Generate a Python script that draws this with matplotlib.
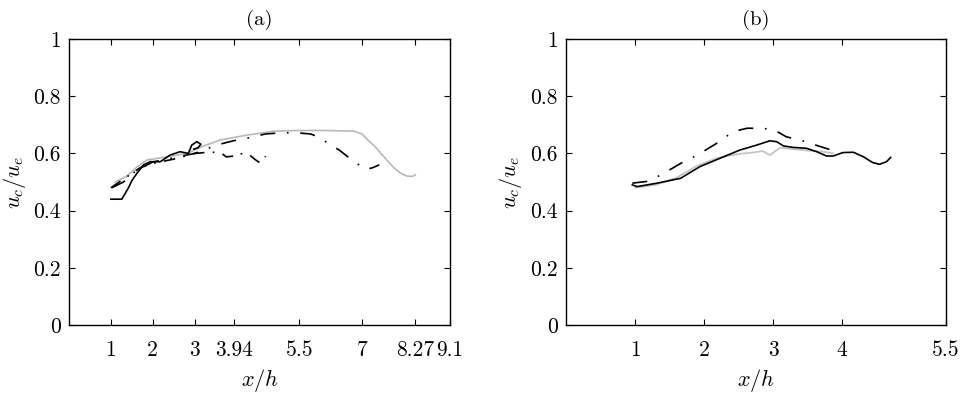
import matplotlib
matplotlib.use('Agg')
import matplotlib.pyplot as plt

plt.rcParams['font.family'] = 'cmr10'
plt.rcParams['mathtext.fontset'] = 'cm'
plt.rcParams['axes.formatter.use_mathtext'] = True

# ---- panel (a) data ----
a_gray_x = [1.1, 1.38, 1.6, 1.86, 2.2, 2.5, 2.82, 3.2, 3.61, 4.25, 4.9, 5.5, 6.2, 6.8,
            7.0, 7.13, 7.3, 7.45, 7.6, 7.77, 7.95, 8.09, 8.2, 8.27]
a_gray_y = [0.50, 0.52, 0.55, 0.577, 0.585, 0.592, 0.60, 0.625, 0.647, 0.664, 0.678, 0.68, 0.68, 0.678,
            0.668, 0.647, 0.625, 0.60, 0.575, 0.548, 0.528, 0.52, 0.52, 0.525]

a_black_x = [1.0, 1.26, 1.42, 1.5, 1.62, 1.78, 1.94, 2.18, 2.41, 2.65, 2.85,
             2.93, 3.05, 3.15, 3.08, 2.98]
a_black_y = [0.44, 0.44, 0.48, 0.505, 0.53, 0.56, 0.571, 0.571, 0.594, 0.606, 0.60,
             0.629, 0.641, 0.632, 0.62, 0.615]

a_dash_x = [1.02, 1.3, 1.6, 2.0, 2.5, 3.0, 3.22, 3.54, 3.92, 4.28, 4.69, 5.05, 5.45, 5.77,
            6.0, 6.17, 6.45, 6.81, 7.09, 7.25, 7.41]
a_dash_y = [0.48, 0.50, 0.54, 0.57, 0.585, 0.60, 0.612, 0.63, 0.644, 0.654, 0.668, 0.672, 0.672, 0.668,
            0.655, 0.637, 0.612, 0.571, 0.544, 0.55, 0.56]

a_dd_x = [1.0, 1.3, 1.7, 2.0, 2.5, 3.0, 3.4, 3.65, 3.75, 3.9, 4.01, 4.29, 4.45, 4.55, 4.65, 4.69]
a_dd_y = [0.48, 0.51, 0.55, 0.565, 0.58, 0.60, 0.605, 0.60, 0.588, 0.59, 0.60, 0.597, 0.578, 0.568, 0.575, 0.59]

a_xticks = [1, 2, 3, 3.94, 5.5, 7, 8.27, 9.1]
a_xlabels = ['1', '2', '3', '3.94', '5.5', '7', '8.27', '9.1']

# ---- panel (b) data ----
b_black_x = [0.96, 1.03, 1.32, 1.66, 1.94, 2.23, 2.52, 2.76, 2.95, 3.05, 3.15, 3.29, 3.48,
             3.63, 3.77, 3.87, 4.01, 4.16, 4.3, 4.44, 4.54, 4.64, 4.70]
b_black_y = [0.49, 0.484, 0.496, 0.513, 0.554, 0.583, 0.612, 0.629, 0.644, 0.641, 0.626, 0.621, 0.618,
             0.606, 0.591, 0.591, 0.603, 0.604, 0.589, 0.568, 0.562, 0.571, 0.586]

b_gray_x = [1.0, 1.3, 1.6, 1.9, 2.2, 2.5, 2.7, 2.85, 2.95, 3.1, 3.3, 3.5, 3.72, 3.87]
b_gray_y = [0.48, 0.49, 0.515, 0.557, 0.585, 0.598, 0.603, 0.608, 0.594, 0.62, 0.615, 0.61, 0.606, 0.60]

b_dd_x = [0.96, 1.17, 1.37, 1.66, 1.9, 2.18, 2.42, 2.62, 2.81, 3.0, 3.19, 3.39, 3.68, 3.87]
b_dd_y = [0.496, 0.502, 0.524, 0.565, 0.594, 0.635, 0.676, 0.688, 0.688, 0.684, 0.658, 0.647, 0.624, 0.61]

b_xticks = [1, 2, 3, 4, 5.5]
b_xlabels = ['1', '2', '3', '4', '5.5']

yticks = [0, 0.2, 0.4, 0.6, 0.8, 1]
ylabels = ['0', '0.2', '0.4', '0.6', '0.8', '1']

fig = plt.figure(figsize=(9.78, 4.01), dpi=100)
ax1 = fig.add_axes([0.0706, 0.1895, 0.3896, 0.7132])
ax2 = fig.add_axes([0.5787, 0.1895, 0.3885, 0.7132])

dashdot = (0, (7, 5, 1, 5))
longdash = (0, (9, 7, 1, 7))

ax1.plot(a_gray_x, a_gray_y, color='#b8b8b8', lw=1.2)
ax1.plot(a_dd_x, a_dd_y, color='k', lw=1.2, linestyle=dashdot)
ax1.plot(a_dash_x, a_dash_y, color='k', lw=1.2, linestyle=longdash)
ax1.plot(a_black_x, a_black_y, color='k', lw=1.2)

ax2.plot(b_gray_x, b_gray_y, color='#c4c4c4', lw=1.3)
ax2.plot(b_dd_x, b_dd_y, color='k', lw=1.2, linestyle=longdash)
ax2.plot(b_black_x, b_black_y, color='k', lw=1.2)

for ax, xmax, xt, xl, title in [(ax1, 9.1, a_xticks, a_xlabels, '(a)'),
                                (ax2, 5.5, b_xticks, b_xlabels, '(b)')]:
    ax.set_xlim(0, xmax)
    ax.set_ylim(0, 1)
    ax.set_xticks(xt)
    ax.set_xticklabels(xl)
    ax.set_yticks(yticks)
    ax.set_yticklabels(ylabels)
    ax.tick_params(direction='in', top=True, right=True, length=4, width=0.8,
                   labelsize=15.5)
    ax.tick_params(axis='x', pad=11)
    ax.tick_params(axis='y', pad=6)
    for s in ax.spines.values():
        s.set_linewidth(1.0)
    ax.set_xlabel('$x/h$', fontsize=16, labelpad=5)
    ax.set_ylabel('$u_c/u_e$', fontsize=16, labelpad=4)
    ax.set_title(title, fontsize=15, pad=10)

fig.savefig('out.png', dpi=100)
